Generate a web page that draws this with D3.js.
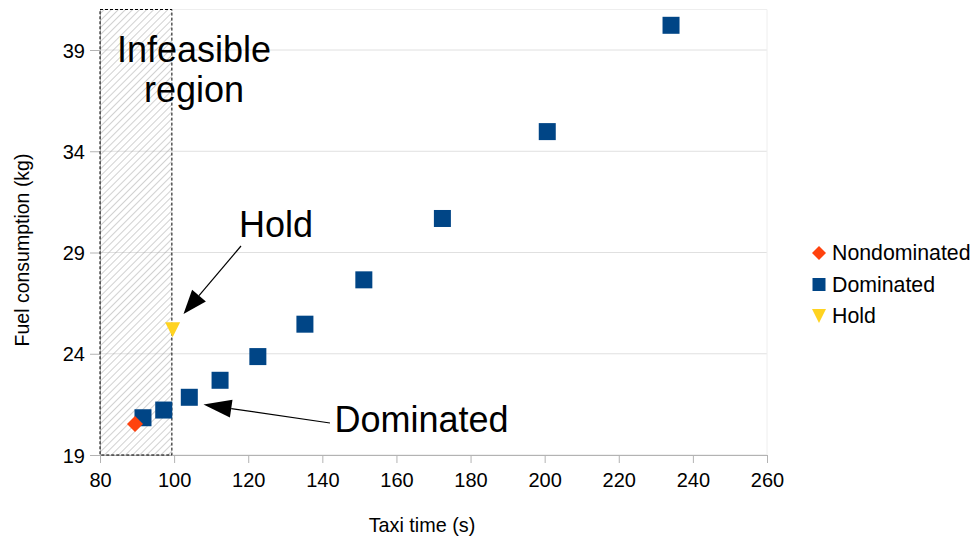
<!DOCTYPE html>
<html>
<head>
<meta charset="utf-8">
<script src="https://cdn.jsdelivr.net/npm/d3@7"></script>
<style>
  html, body { margin: 0; padding: 0; background: #fff; }
  svg { display: block; font-family: "Liberation Sans", Arial, sans-serif; }
</style>
</head>
<body>
<svg id="chart" width="977" height="536"></svg>
<script>
// Taxi time (s) vs fuel consumption (kg)
const nondominatedX = [89.45];
const nondominatedY = [20.53];
const dominatedX = [91.6, 97.2, 104.1, 112.4, 122.6, 135.3, 151.2, 172.4, 200.7, 234.1];
const dominatedY = [20.84, 21.22, 21.85, 22.69, 23.86, 25.46, 27.65, 30.68, 34.97, 40.22];
const holdX = [99.6];
const holdY = [25.18];
const xTicks = [80, 100, 120, 140, 160, 180, 200, 220, 240, 260];
const yTicks = [19, 24, 29, 34, 39];
const xDomain = [80, 260];
const yDomain = [19, 41];
const infeasibleX = [80, 99.4];
const seriesNames = ["Nondominated", "Dominated", "Hold"];
const seriesColors = ["#ff420e", "#004586", "#ffd320"];

const svg = d3.select("#chart");
const x = d3.scaleLinear().domain(xDomain).range([100, 767]);
const y = d3.scaleLinear().domain(yDomain).range([455, 9.5]);

const axisGrey = "#b3b3b3";

// hatch pattern for the infeasible band
const defs = svg.append("defs");
defs.append("pattern")
  .attr("id", "hatch")
  .attr("patternUnits", "userSpaceOnUse")
  .attr("width", 5).attr("height", 5)
  .attr("patternTransform", "rotate(45)")
  .append("line")
  .attr("x1", 0).attr("y1", 0).attr("x2", 0).attr("y2", 5)
  .attr("stroke", "#999").attr("stroke-width", 0.9);

// horizontal grid lines
svg.append("g").selectAll("line")
  .data(yTicks)
  .join("line")
  .attr("x1", x(xDomain[0])).attr("x2", x(xDomain[1]))
  .attr("y1", d => y(d)).attr("y2", d => y(d))
  .attr("stroke", "#e0e0e0").attr("stroke-width", 1);

// plot frame top and right
svg.append("line")
  .attr("x1", x(xDomain[0])).attr("x2", x(xDomain[1]))
  .attr("y1", y(yDomain[1])).attr("y2", y(yDomain[1]))
  .attr("stroke", "#eeeeee");
svg.append("line")
  .attr("x1", x(xDomain[1])).attr("x2", x(xDomain[1]))
  .attr("y1", y(yDomain[0])).attr("y2", y(yDomain[1]))
  .attr("stroke", "#eeeeee");

// axes
const xAxis = svg.append("g")
  .attr("transform", `translate(0,${y(yDomain[0])})`)
  .call(d3.axisBottom(x).tickValues(xTicks).tickSize(8).tickPadding(10).tickSizeOuter(0));
const yAxis = svg.append("g")
  .attr("transform", `translate(${x(xDomain[0])},0)`)
  .call(d3.axisLeft(y).tickValues(yTicks).tickSize(10).tickPadding(5).tickSizeOuter(0));
[xAxis, yAxis].forEach(g => {
  g.select(".domain").attr("stroke", axisGrey);
  g.selectAll(".tick line").attr("stroke", axisGrey);
  g.selectAll(".tick text")
    .attr("fill", "#000")
    .style("font-family", "Liberation Sans, Arial, sans-serif")
    .style("font-size", "20px");
});
yAxis.selectAll(".tick text").attr("dy", "0.36em");

// infeasible band
svg.append("rect")
  .attr("x", x(infeasibleX[0]))
  .attr("y", y(yDomain[1]))
  .attr("width", x(infeasibleX[1]) - x(infeasibleX[0]))
  .attr("height", y(yDomain[0]) - y(yDomain[1]))
  .attr("fill", "url(#hatch)")
  .attr("stroke", "#000").attr("stroke-width", 1)
  .attr("stroke-dasharray", "3,2");

// markers
const sq = 17;
svg.append("g").selectAll("rect")
  .data(dominatedX.map((v, i) => [v, dominatedY[i]]))
  .join("rect")
  .attr("x", d => x(d[0]) - sq / 2)
  .attr("y", d => y(d[1]) - sq / 2)
  .attr("width", sq).attr("height", sq)
  .attr("fill", seriesColors[1]);

svg.append("g").selectAll("path")
  .data(nondominatedX.map((v, i) => [v, nondominatedY[i]]))
  .join("path")
  .attr("transform", d => `translate(${x(d[0])},${y(d[1])})`)
  .attr("d", "M0,-8L8,0L0,8L-8,0Z")
  .attr("fill", seriesColors[0]);

svg.append("g").selectAll("path")
  .data(holdX.map((v, i) => [v, holdY[i]]))
  .join("path")
  .attr("transform", d => `translate(${x(d[0])},${y(d[1])})`)
  .attr("d", "M-7.5,-7.5L7.5,-7.5L0,7.5Z")
  .attr("fill", seriesColors[2]);

// annotations
const note = svg.append("g")
  .style("font-size", "36px").attr("fill", "#000");
note.append("text").attr("x", 194).attr("y", 62).attr("text-anchor", "middle").text("Infeasible");
note.append("text").attr("x", 194).attr("y", 102).attr("text-anchor", "middle").text("region");
note.append("text").attr("x", 239).attr("y", 237).text("Hold");
note.append("text").attr("x", 334.5).attr("y", 432).text("Dominated");

function arrow(x1, y1, x2, y2, len, half) {
  const a = Math.atan2(y2 - y1, x2 - x1);
  const bx = x2 - len * Math.cos(a), by = y2 - len * Math.sin(a);
  svg.append("line")
    .attr("x1", x1).attr("y1", y1).attr("x2", bx).attr("y2", by)
    .attr("stroke", "#000").attr("stroke-width", 1.2);
  const px = -Math.sin(a) * half, py = Math.cos(a) * half;
  svg.append("path")
    .attr("d", `M${x2},${y2}L${bx + px},${by + py}L${bx - px},${by - py}Z`)
    .attr("fill", "#000");
}
arrow(241, 246, 183.5, 314, 24, 9);
arrow(330, 423, 203.5, 404.5, 28, 9);

// legend
const legend = svg.append("g").attr("transform", "translate(819,253)");
const legendShapes = [
  "M0,-7L7,0L0,7L-7,0Z",
  "M-6.5,-6.5L6.5,-6.5L6.5,6.5L-6.5,6.5Z",
  "M-7,-7L7,-7L0,7Z"
];
seriesNames.forEach((name, i) => {
  const row = legend.append("g").attr("transform", `translate(0,${i * 31.5})`);
  row.append("path").attr("d", legendShapes[i]).attr("fill", seriesColors[i]);
  row.append("text").attr("x", 13).attr("y", 7)
    .style("font-size", "21.3px").attr("fill", "#000").text(name);
});

// axis titles
svg.append("text")
  .attr("x", 422).attr("y", 532)
  .attr("text-anchor", "middle")
  .style("font-size", "19.8px").text("Taxi time (s)");
svg.append("text")
  .attr("transform", "translate(29,250) rotate(-90)")
  .attr("text-anchor", "middle")
  .style("font-size", "19.5px").text("Fuel consumption (kg)");
</script>
</body>
</html>
